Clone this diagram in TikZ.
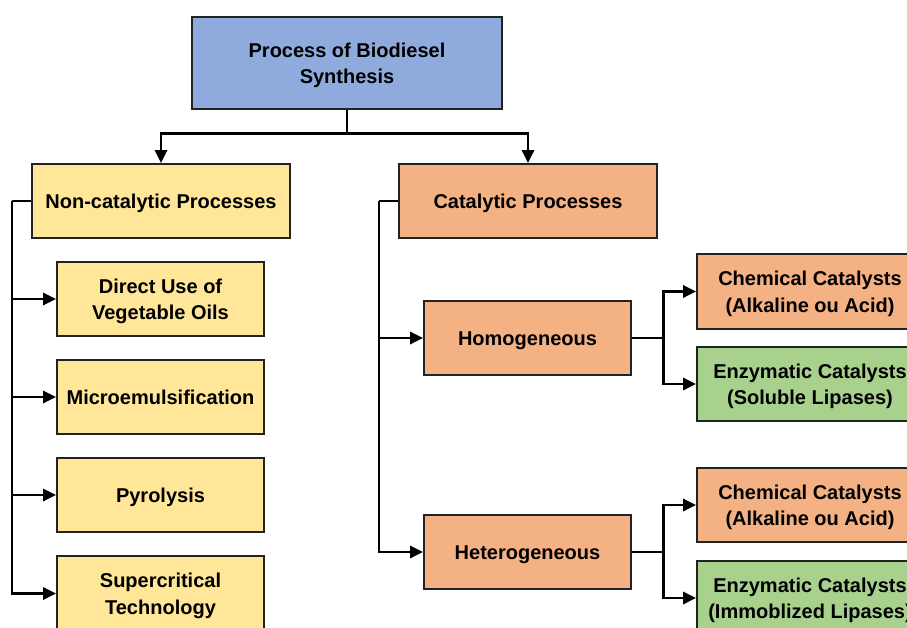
\documentclass[tikz,border=0pt]{standalone}
\usepackage{fontspec}
\setmainfont{Liberation Sans}
\usetikzlibrary{arrows.meta}
\definecolor{cblue}{HTML}{8FAADC}
\definecolor{cyellow}{HTML}{FFE699}
\definecolor{corange}{HTML}{F4B183}
\definecolor{cgreen}{HTML}{A9D18E}
\definecolor{cborder}{HTML}{222222}
\newcommand\bt[1]{\raisebox{-2pt}[\height][\depth]{\begin{tabular}{@{}c@{}}#1\end{tabular}}}
\begin{document}
\begin{tikzpicture}[x=1pt,y=-1pt,
  box/.style={draw=cborder,line width=1.7pt,inner sep=0pt,
    font=\fontsize{20}{26.5}\selectfont\bfseries},
  conn/.style={line width=2.8pt,line cap=butt},
  arr/.style={conn,-{Triangle[length=13pt,width=12pt]}}]
\clip (0,0) rectangle (907,628);
\useasboundingbox (0,0) rectangle (907,628);
\fill[white] (0,0) rectangle (907,628);
\node[box,fill=cblue,minimum width=310,minimum height=92] (top) at (347,63) {\bt{Process of Biodiesel\\Synthesis}};
\node[box,fill=cyellow,minimum width=258,minimum height=74] (noncat) at (161,201) {\bt{Non-catalytic Processes}};
\node[box,fill=corange,minimum width=258,minimum height=74] (cat) at (528,201) {\bt{Catalytic Processes}};
\node[box,fill=cyellow,minimum width=207,minimum height=74] (direct) at (160.5,299) {\bt{Direct Use of\\Vegetable Oils}};
\node[box,fill=cyellow,minimum width=207,minimum height=74] (micro) at (160.5,397) {\bt{Microemulsification}};
\node[box,fill=cyellow,minimum width=207,minimum height=74] (pyro) at (160.5,495) {\bt{Pyrolysis}};
\node[box,fill=cyellow,minimum width=207,minimum height=75] (super) at (160.5,593.5) {\bt{Supercritical\\Technology}};
\node[box,fill=corange,minimum width=207,minimum height=74] (homog) at (527.5,338) {\bt{Homogeneous}};
\node[box,fill=corange,minimum width=207,minimum height=74] (hetero) at (527.5,552) {\bt{Heterogeneous}};
\node[box,fill=corange,minimum width=226,minimum height=75] (chemA) at (810,291.5) {\bt{Chemical Catalysts\\(Alkaline ou Acid)}};
\node[box,fill=cgreen,minimum width=226,minimum height=74] (enzA) at (810,384) {\bt{Enzymatic Catalysts\\(Soluble Lipases)}};
\node[box,fill=corange,minimum width=226,minimum height=74] (chemB) at (810,505) {\bt{Chemical Catalysts\\(Alkaline ou Acid)}};
\node[box,fill=cgreen,minimum width=226,minimum height=74] (enzB) at (810,598) {\bt{Enzymatic Catalysts\\(Immoblized Lipases)}};
% top split
\draw[conn] (top.south) -- ++(0,24) coordinate (tj);
\draw[arr] (tj) -| (noncat.north);
\draw[arr] (tj) -| (cat.north);
% left spine
\coordinate (ls) at (12,201);
\draw[conn] (noncat.west) -- (ls);
\draw[arr] (ls) |- (direct.west);
\draw[arr] (ls) |- (micro.west);
\draw[arr] (ls) |- (pyro.west);
\draw[arr] (ls) |- (super.west);
% right spine
\coordinate (rs) at (379,201);
\draw[conn] (cat.west) -- (rs);
\draw[arr] (rs) |- (homog.west);
\draw[arr] (rs) |- (hetero.west);
% homogeneous
\draw[conn] (homog.east) -- ++(32,0) coordinate (hj);
\draw[arr] (hj) |- (chemA.west);
\draw[arr] (hj) |- (enzA.west);
% heterogeneous
\draw[conn] (hetero.east) -- ++(32,0) coordinate (ej);
\draw[arr] (ej) |- (chemB.west);
\draw[arr] (ej) |- (enzB.west);
\end{tikzpicture}
\end{document}
